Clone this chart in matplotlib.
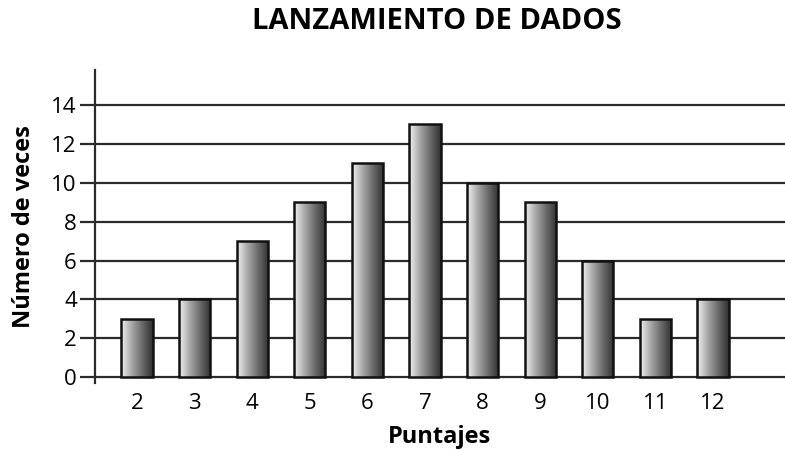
import numpy as np
import matplotlib.pyplot as plt
from matplotlib.colors import LinearSegmentedColormap

# datos
puntajes = [2, 3, 4, 5, 6, 7, 8, 9, 10, 11, 12]
veces = [3, 4, 7, 9, 11, 13, 10, 9, 6, 3, 4]
yticks = [0, 2, 4, 6, 8, 10, 12, 14]

plt.rcParams['font.family'] = ['Open Sans', 'DejaVu Sans']

fig = plt.figure(figsize=(7.85, 4.53), dpi=100)
ax = fig.add_axes([0.121, 0.1545, 0.879, 0.691])

grey = '#2b2b2b'
for y in yticks:
    ax.axhline(y, color=grey, lw=1.6, zorder=1)

cmap = LinearSegmentedColormap.from_list('barra', ['#f2f2f2', '#a8a8a8', '#6a6a6a', '#303030'])
grad = np.linspace(0, 1, 256).reshape(1, -1)
width = 0.54
for x, v in zip(puntajes, veces):
    bar = ax.bar(x, v, width=width, color='none', edgecolor='#111111', lw=1.8, zorder=3)[0]
    im = ax.imshow(grad, cmap=cmap, aspect='auto', zorder=2,
                   extent=[x - width / 2, x + width / 2, 0, v])
    im.set_clip_path(bar)

ax.set_xlim(1.27, 13.25)
ax.set_ylim(-0.3, 15.8)

for s in ['top', 'right', 'bottom']:
    ax.spines[s].set_visible(False)
ax.spines['left'].set_color(grey)
ax.spines['left'].set_linewidth(1.6)

ax.set_yticks(yticks)
ax.tick_params(axis='y', direction='out', length=11, width=1.6, color=grey,
               labelsize=16, pad=2)
ax.set_xticks(puntajes)
ax.tick_params(axis='x', length=0, labelsize=16, pad=7)

ax.set_xlabel('Puntajes', fontsize=17, fontweight='bold', labelpad=8)
ax.set_ylabel('Número de veces', fontsize=17, fontweight='bold', labelpad=11)
fig.text(0.557, 0.953, 'LANZAMIENTO DE DADOS', ha='center', va='center',
         fontsize=21, fontweight='bold')

fig.savefig('out.png', dpi=100)
